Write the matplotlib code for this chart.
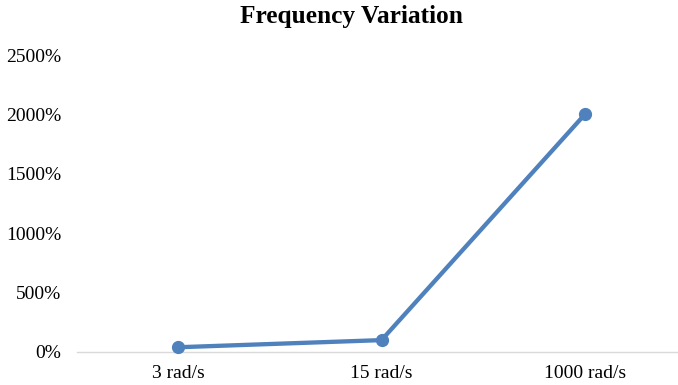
import matplotlib.pyplot as plt

# frequency labels and percentage values
categories = ["3 rad/s", "15 rad/s", "1000 rad/s"]
values = [40, 100, 2000]
y_ticks = [0, 500, 1000, 1500, 2000, 2500]

plt.rcParams['font.family'] = ['Liberation Serif', 'DejaVu Serif']

fig = plt.figure(figsize=(6.78, 3.85), dpi=100)
ax = fig.add_axes([76.5 / 678, 33 / 385, 610 / 678, 297 / 385])

x = list(range(len(categories)))
ax.plot(x, values, color='#4F81BD', linewidth=3.1, marker='o',
        markersize=8.5, solid_capstyle='round', clip_on=False, zorder=3)

ax.set_xlim(-0.5, 2.5)
ax.set_ylim(0, 2500)
ax.set_xticks(x)
ax.set_xticklabels(categories, fontsize=14)
ax.set_yticks(y_ticks)
ax.set_yticklabels([f"{v}%" for v in y_ticks], fontsize=14)
ax.tick_params(axis='both', length=0)
ax.tick_params(axis='y', pad=11)
ax.tick_params(axis='x', pad=9)

for side in ['top', 'right', 'left']:
    ax.spines[side].set_visible(False)
ax.spines['bottom'].set_color('#D9D9D9')
ax.spines['bottom'].set_linewidth(1)

fig.text(351 / 678, 1 - 17 / 385, "Frequency Variation", ha='center', va='center',
         fontsize=18.3, fontweight='bold')

fig.savefig('out.png', dpi=100)
